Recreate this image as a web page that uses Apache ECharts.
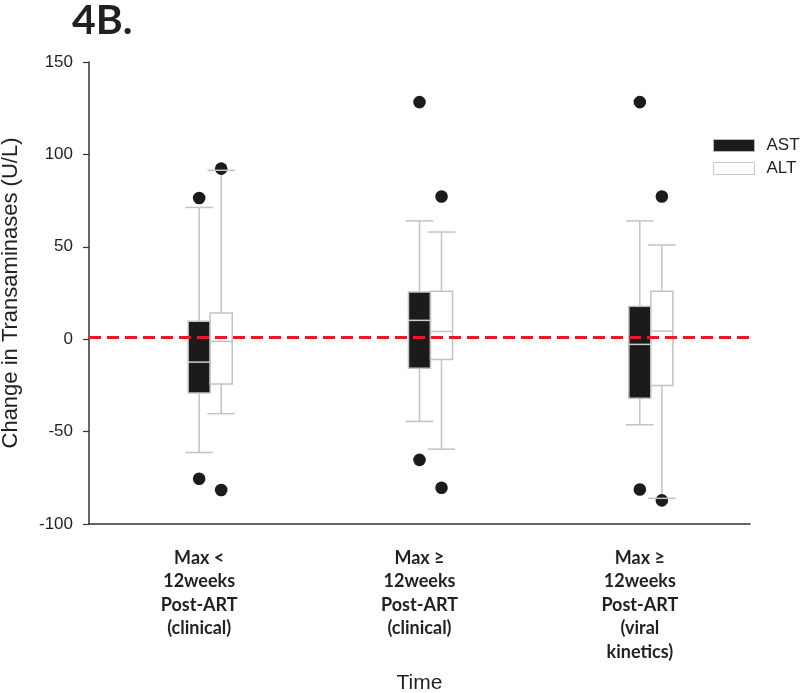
<!DOCTYPE html>
<html><head><meta charset="utf-8">
<script src="https://cdn.jsdelivr.net/npm/echarts@6/dist/echarts.min.js"></script>
<style>html,body{margin:0;padding:0;background:#fff}#c{width:800px;height:693px}</style>
</head><body><div id="c"></div>
<script>
const categories = ['Max <\n12weeks\nPost-ART\n(clinical)', 'Max \u2265\n12weeks\nPost-ART\n(clinical)', 'Max \u2265\n12weeks\nPost-ART\n(viral\nkinetics)'];
const yMin = -100, yMax = 150, yStep = 50;
// [lower whisker, Q1, median, Q3, upper whisker]
const astBox = [[-61.3, -29.1, -12.4, 9.7, 71.3], [-44.5, -15.7, 10.2, 25.6, 64], [-46.3, -32, -2.8, 17.8, 64]];
const altBox = [[-40.3, -24.2, -1.2, 14.2, 91.4], [-59.5, -11, 4.2, 26, 58], [-86.1, -25.1, 4.4, 26, 51]];
const astOutliers = [[76.4, -75.5], [128.3, -65.3], [128.3, -81.3]];
const altOutliers = [[92.3, -81.6], [77.2, -80.4], [77.2, -87.2]];
const referenceLine = 1;

const chart = echarts.init(document.getElementById('c'));
const GRAY = '#c3c3c3', INK = '#1c1a1b', TXT = '#231f20';

function makeRender(outliers, shift, fill, medianColor) {
  return function (params, api) {
    const i = api.value(0);
    const band = api.size([1, 0])[0];
    const w = band * 0.1, cap = band * 0.125;
    const cx = api.coord([i, 0])[0] + shift * w;
    const y = k => api.coord([i, api.value(k)])[1];
    const yLo = y(1), yQ1 = y(2), yMed = y(3), yQ3 = y(4), yHi = y(5);
    const ls = { stroke: GRAY, lineWidth: 1.5 };
    const children = [
      { type: 'line', shape: { x1: cx, y1: yHi, x2: cx, y2: yQ3 }, style: ls },
      { type: 'line', shape: { x1: cx, y1: yQ1, x2: cx, y2: yLo }, style: ls },
      { type: 'rect', shape: { x: cx - w / 2, y: yQ3, width: w, height: yQ1 - yQ3 }, style: { fill: fill, stroke: GRAY, lineWidth: 1.5 } },
      { type: 'line', shape: { x1: cx - w / 2, y1: yMed, x2: cx + w / 2, y2: yMed }, style: { stroke: medianColor, lineWidth: 1.5 } }
    ];
    outliers[params.dataIndex].forEach(v => {
      const p = api.coord([i, v]);
      children.push({ type: 'circle', shape: { cx: cx, cy: p[1], r: 6.3 }, style: { fill: INK } });
    });
    children.push({ type: 'line', shape: { x1: cx - cap / 2, y1: yHi, x2: cx + cap / 2, y2: yHi }, style: ls });
    children.push({ type: 'line', shape: { x1: cx - cap / 2, y1: yLo, x2: cx + cap / 2, y2: yLo }, style: ls });
    return { type: 'group', children: children };
  };
}

chart.setOption({
  animation: false,
  backgroundColor: '#fff',
  title: { text: '4B.', left: 67, top: -5, textStyle: { fontFamily: 'Lato', fontWeight: 'bold', fontSize: 41, color: TXT } },
  legend: {
    orient: 'vertical', left: 708, top: 132, icon: 'rect', itemWidth: 41, itemHeight: 12, itemGap: 6,
    textStyle: { fontFamily: 'Liberation Sans', fontSize: 17, color: TXT, lineHeight: 16, padding: [0, 0, 0, 7] },
    data: [
      { name: 'AST', itemStyle: { color: INK, borderColor: '#b8b8b8', borderWidth: 1 } },
      { name: 'ALT', itemStyle: { color: '#fff', borderColor: '#c8c8c8', borderWidth: 1 } }
    ]
  },
  grid: { left: 89, top: 62, width: 661, height: 462, outerBoundsMode: 'none', containLabel: false },
  xAxis: {
    type: 'category', data: categories,
    axisLine: { onZero: false, lineStyle: { color: '#333', width: 1.5 } },
    axisTick: { alignWithLabel: true, length: 6, lineStyle: { color: '#333', width: 1.2 } },
    axisLabel: { interval: 0, margin: 22, fontFamily: 'Lato', fontWeight: 'bold', fontSize: 18, lineHeight: 23.5, color: TXT },
    name: 'Time', nameLocation: 'middle', nameGap: 149,
    nameTextStyle: { fontFamily: 'Liberation Sans', fontSize: 21, color: TXT }
  },
  yAxis: {
    type: 'value', min: yMin, max: yMax, interval: yStep,
    axisLine: { show: true, lineStyle: { color: '#333', width: 1.5 } },
    axisTick: { show: true, length: 6, lineStyle: { color: '#333', width: 1.2 } },
    splitLine: { show: false },
    axisLabel: { margin: 16, fontFamily: 'Liberation Sans', fontSize: 17, color: TXT },
    name: 'Change in Transaminases (U/L)', nameLocation: 'middle', nameGap: 67,
    nameTextStyle: { fontFamily: 'Liberation Sans', fontSize: 22, color: TXT }
  },
  series: [
    {
      name: 'AST', type: 'custom', itemStyle: { color: INK, borderColor: GRAY },
      renderItem: makeRender(astOutliers, 0, INK, '#d0d0d0'),
      encode: { x: 0, y: [1, 2, 3, 4, 5] },
      data: astBox.map((b, i) => [i].concat(b))
    },
    {
      name: 'ALT', type: 'custom', itemStyle: { color: '#fff', borderColor: GRAY },
      renderItem: makeRender(altOutliers, 1, '#fff', GRAY),
      encode: { x: 0, y: [1, 2, 3, 4, 5] },
      data: altBox.map((b, i) => [i].concat(b)),
      markLine: {
        silent: true, symbol: 'none', z: 10,
        label: { show: false },
        lineStyle: { color: '#f0161e', type: [12, 6], width: 3, opacity: 1 },
        data: [{ yAxis: referenceLine }]
      }
    }
  ]
});
</script>
</body></html>
